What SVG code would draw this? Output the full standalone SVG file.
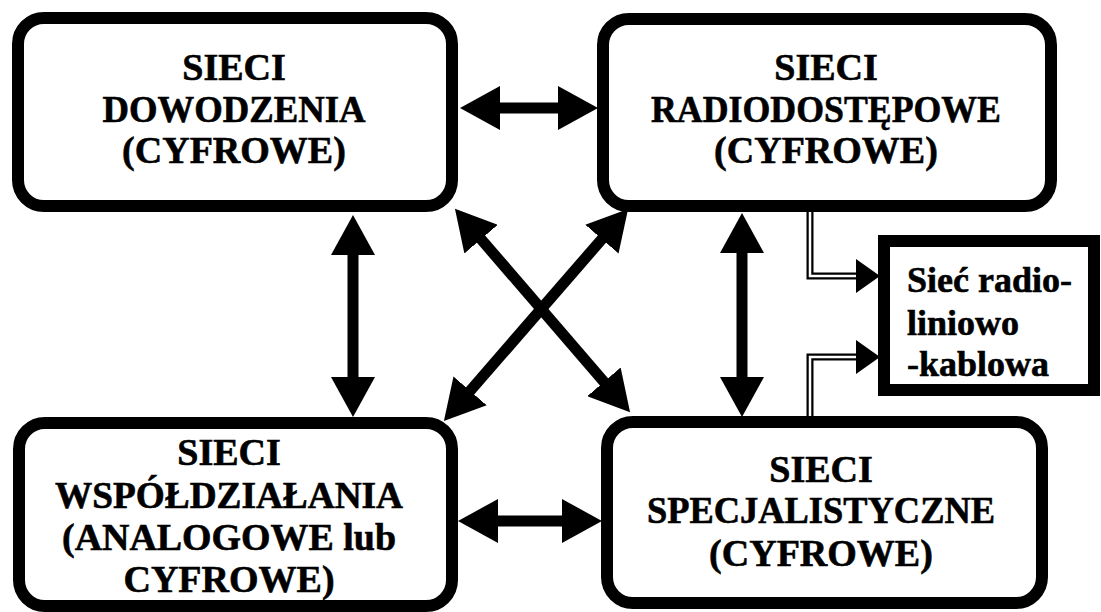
<svg xmlns="http://www.w3.org/2000/svg" width="1101" height="612" viewBox="0 0 1101 612">
<style>
.box{fill:#fff;stroke:#000;stroke-width:12}
.t{font-family:"Liberation Serif","Times New Roman",serif;font-weight:bold;font-size:38px;fill:#000;stroke:#000;stroke-width:0.6;text-anchor:middle}
.ts{font-family:"Liberation Serif","Times New Roman",serif;font-weight:bold;font-size:36px;fill:#000;stroke:#000;stroke-width:0.6}
.arr{stroke:#000;stroke-width:11;fill:none;marker-start:url(#h);marker-end:url(#h)}
.dbl{fill:none;stroke:#000;stroke-width:7;stroke-linejoin:miter}
.dbli{fill:none;stroke:#fff;stroke-width:2.5;stroke-linejoin:miter}
</style>
<defs>
<marker id="h" viewBox="0 0 40 44" refX="20" refY="22" markerWidth="40" markerHeight="44" markerUnits="userSpaceOnUse" orient="auto-start-reverse">
<path d="M0,0 L40,22 L0,44 Z" fill="#000"/>
</marker>
</defs>
<rect width="1101" height="612" fill="#fff"/>
<g id="connectors">
<line class="arr" x1="480" y1="108" x2="578" y2="108"/>
<line class="arr" x1="478" y1="521" x2="582" y2="521"/>
<line class="arr" x1="353" y1="235" x2="353" y2="397"/>
<line class="arr" x1="742" y1="233" x2="742" y2="397"/>
<line class="arr" x1="468" y1="224" x2="617" y2="397"/>
<line class="arr" x1="615" y1="224" x2="457" y2="406"/>
<path class="dbl" d="M810,212 V276 H858"/>
<path class="dbli" d="M810,210 V276 H860"/>
<polygon points="856,259 880,276 856,293" fill="#000"/>
<path class="dbl" d="M810,418 V357 H858"/>
<path class="dbli" d="M810,420 V357 H860"/>
<polygon points="856,340 880,357 856,374" fill="#000"/>
</g>
<g id="node-dowodzenia">
<rect class="box" x="18" y="18" width="434" height="188" rx="26"/>
<text class="t" x="234" y="80">SIECI</text>
<text class="t" x="234" y="122" textLength="263" lengthAdjust="spacingAndGlyphs">DOWODZENIA</text>
<text class="t" x="234" y="163">(CYFROWE)</text>
</g>
<g id="node-radiodostepowe">
<rect class="box" x="603" y="19" width="448" height="187" rx="26"/>
<text class="t" x="826" y="80">SIECI</text>
<text class="t" x="826" y="122" textLength="350" lengthAdjust="spacingAndGlyphs">RADIODOSTĘPOWE</text>
<text class="t" x="826" y="163">(CYFROWE)</text>
</g>
<g id="node-wspoldzialania">
<rect class="box" x="19" y="423" width="433" height="183" rx="26"/>
<text class="t" x="229" y="465">SIECI</text>
<text class="t" x="229" y="508" textLength="348" lengthAdjust="spacingAndGlyphs">WSPÓŁDZIAŁANIA</text>
<text class="t" x="229" y="550" textLength="334" lengthAdjust="spacingAndGlyphs">(ANALOGOWE lub</text>
<text class="t" x="229" y="592">CYFROWE)</text>
</g>
<g id="node-specjalistyczne">
<rect class="box" x="607" y="422" width="435" height="181" rx="26"/>
<text class="t" x="821" y="482">SIECI</text>
<text class="t" x="821" y="523" textLength="348" lengthAdjust="spacingAndGlyphs">SPECJALISTYCZNE</text>
<text class="t" x="821" y="566">(CYFROWE)</text>
</g>
<g id="node-radioliniowo">
<rect class="box" x="884" y="241" width="210" height="149"/>
<text class="ts" x="907" y="292">Sieć radio-</text>
<text class="ts" x="907" y="335">liniowo</text>
<text class="ts" x="907" y="376">-kablowa</text>
</g>
</svg>
